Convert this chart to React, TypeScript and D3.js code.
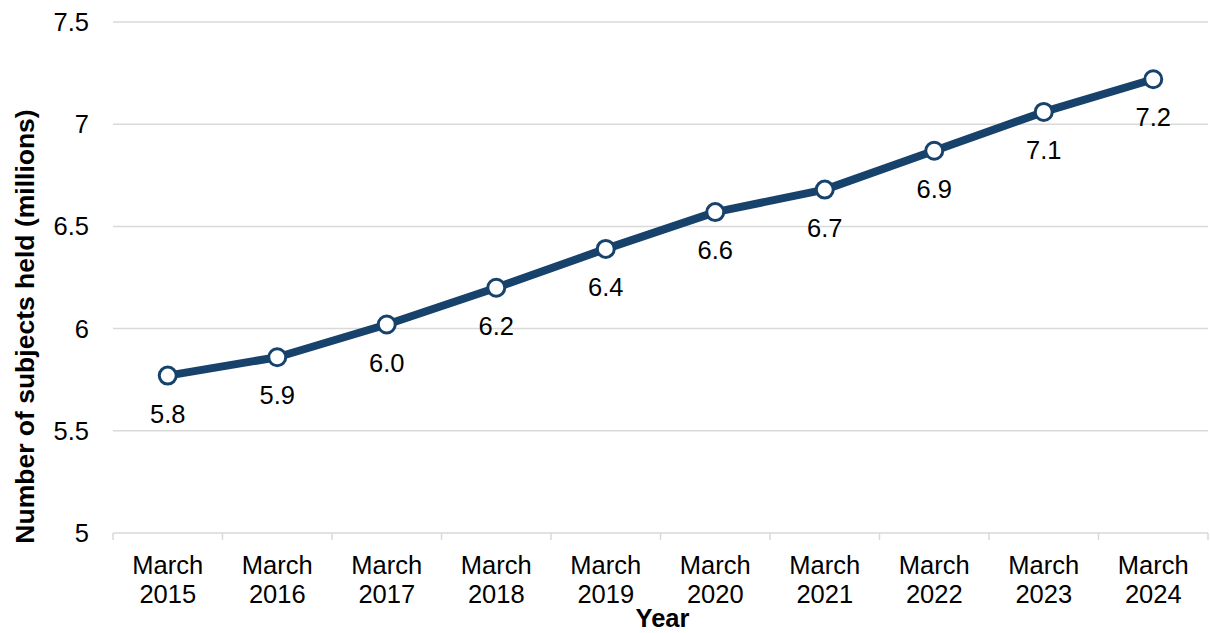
import * as d3 from 'd3';
import * as React from 'react';

const years = ['2015', '2016', '2017', '2018', '2019', '2020', '2021', '2022', '2023', '2024'];
const subjects = [5.77, 5.86, 6.02, 6.2, 6.39, 6.57, 6.68, 6.87, 7.06, 7.22];
const yTicks = [5, 5.5, 6, 6.5, 7, 7.5];

const W = 1210;
const H = 633;
const FONT = 'Liberation Sans, Arial, sans-serif';

const App = () => {
  const left = 113;
  const right = 1208;
  const top = 22;
  const bottom = 533;

  const x = d3.scaleBand<string>().domain(years).range([left, right]);
  const y = d3.scaleLinear().domain([5, 7.5]).range([bottom, top]);
  const fmt = d3.format('.1f');

  const line = d3.line<number>()
    .x((d, i) => x(years[i]) + x.bandwidth() / 2)
    .y(d => y(d));

  return (
    <svg width={W} height={H} style={{ position: 'absolute', left: 0, top: 0 }}>
      <rect width={W} height={H} fill='#fff' />
      {yTicks.map(t => (
        <g key={t}>
          <line x1={left} x2={right} y1={y(t)} y2={y(t)} stroke='#d9d9d9' strokeWidth={1.5} />
          <text x={89} y={y(t) + 9} textAnchor='end' fontFamily={FONT} fontSize={25.5}>
            {t}
          </text>
        </g>
      ))}
      {years.concat(['end']).map((yr, i) => {
        const xx = left + i * x.step();
        return <line key={yr} x1={xx} x2={xx} y1={bottom} y2={bottom + 7} stroke='#d9d9d9' strokeWidth={1.5} />;
      })}
      {years.map(yr => {
        const cx = x(yr) + x.bandwidth() / 2;
        return (
          <text key={yr} x={cx} textAnchor='middle' fontFamily={FONT} fontSize={25.5}>
            <tspan x={cx} y={574}>March</tspan>
            <tspan x={cx} y={603}>{yr}</tspan>
          </text>
        );
      })}
      <text x={(left + right) / 2 + 2} y={627} textAnchor='middle' fontFamily={FONT}
        fontSize={25.5} fontWeight='bold'>Year</text>
      <text transform={`translate(34, ${(top + bottom) / 2 + 49}) rotate(-90)`} textAnchor='middle'
        fontFamily={FONT} fontSize={26.5} fontWeight='bold'>Number of subjects held (millions)</text>

      <path d={line(subjects)} fill='none' stroke='#17426b' strokeWidth={8} strokeLinejoin='round' />
      {subjects.map((v, i) => {
        const cx = x(years[i]) + x.bandwidth() / 2;
        return (
          <g key={i}>
            <circle cx={cx} cy={y(v)} r={8.5} fill='#fff' stroke='#17426b' strokeWidth={3} />
            <text x={cx} y={y(v) + 47} textAnchor='middle' fontFamily={FONT} fontSize={25.5}>
              {fmt(v)}
            </text>
          </g>
        );
      })}
    </svg>
  );
};

export default App;
